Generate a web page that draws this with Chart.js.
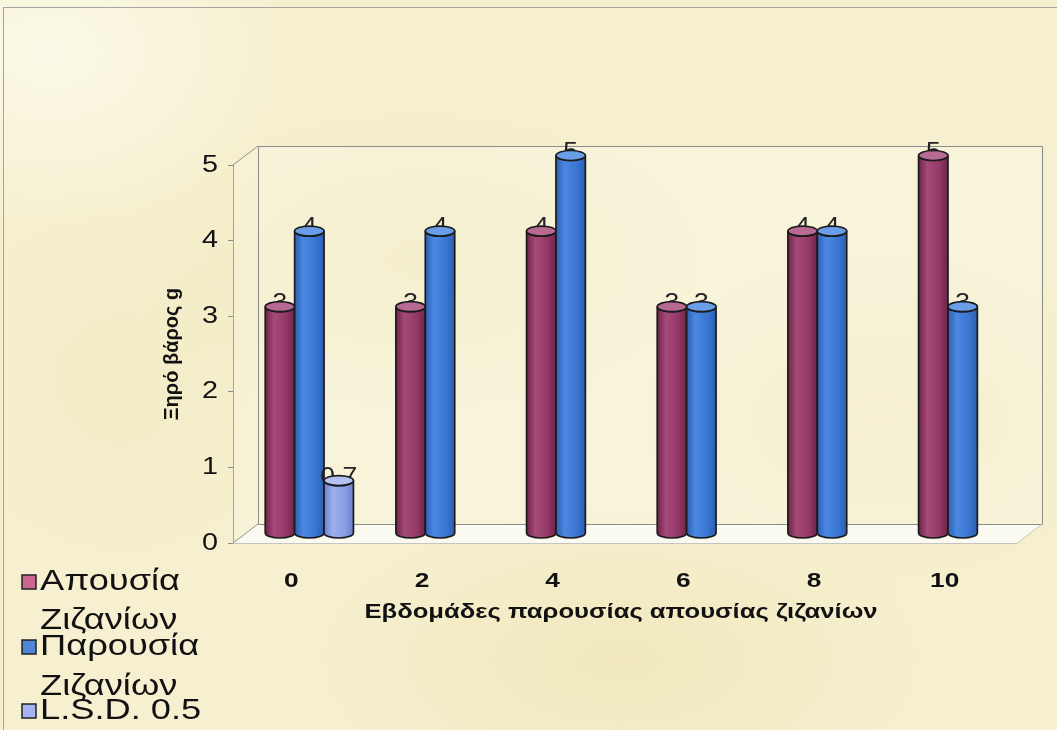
<!DOCTYPE html>
<html>
<head>
<meta charset="utf-8">
<script src="https://cdn.jsdelivr.net/npm/chart.js@4/dist/chart.umd.min.js"></script>
<style>
  html, body { margin: 0; padding: 0; }
  body { width: 1057px; height: 730px; overflow: hidden; }
  #wrap {
    position: relative; width: 1057px; height: 730px; overflow: hidden;
    background:
      radial-gradient(ellipse 240px 180px at 50px 50px, rgba(255,255,246,0.6), rgba(255,255,246,0) 100%),
      radial-gradient(ellipse 300px 160px at 420px 260px, rgba(236,226,176,0.45), rgba(236,226,176,0) 100%),
      radial-gradient(ellipse 260px 180px at 880px 420px, rgba(238,228,180,0.45), rgba(238,228,180,0) 100%),
      radial-gradient(ellipse 320px 160px at 620px 660px, rgba(236,224,170,0.5), rgba(236,224,170,0) 100%),
      radial-gradient(ellipse 200px 200px at 120px 380px, rgba(240,232,188,0.5), rgba(240,232,188,0) 100%),
      #f6f0d0;
  }
  #frame { position: absolute; left: 3px; top: 7px; width: 1100px; height: 800px; border: 1px solid #a4a4a4; box-sizing: border-box; }
  canvas { position: absolute; left: 0; top: 0; }
</style>
</head>
<body>
<div id="wrap">
  <div id="frame"></div>
  <canvas id="c" width="1057" height="730"></canvas>
</div>
<script>
// Categories: weeks of weed presence / absence
const categories = ['0', '2', '4', '6', '8', '10'];
// Dry weight (g) per treatment
const absenceValues = [3, 3, 4, 3, 4, 5];
const presenceValues = [4, 4, 5, 3, 4, 3];
const lsdValues = [0.7, null, null, null, null, null];
const seriesNames = ['Απουσία Ζιζανίων', 'Παρουσία Ζιζανίων', 'L.S.D. 0.5'];
const yTickValues = [0, 1, 2, 3, 4, 5];
const xTitle = 'Εβδομάδες παρουσίας απουσίας ζιζανίων';
const yTitle = 'Ξηρό βάρος g';

const FONT = "'Liberation Sans', Arial, sans-serif";

// cylinder shading per series
const palette = [
  { dark: '#6e2449', mid: '#953a68', light: '#a64b79', top: '#b86a93', swatch: '#cc6690' },
  { dark: '#2c5fb2', mid: '#3a76d2', light: '#4b88e2', top: '#6a9ee9', swatch: '#4f86d8' },
  { dark: '#6a7fcc', mid: '#8a9fe4', light: '#9cb0ee', top: '#b3c2f3', swatch: '#a3b4f0' }
];

// 3D depth of the plot box, and offset of the bar row inside it
const DEPTH = { x: 25, y: -19 };
const ROW = { x: 11, y: -9.5 };

// horizontally widened text
function wideText(ctx, text, x, y, sx, align) {
  ctx.save();
  ctx.translate(x, y);
  ctx.scale(sx, 1);
  ctx.textAlign = align;
  ctx.fillText(text, 0, 0);
  ctx.restore();
}

const frame3d = {
  id: 'frame3d',
  beforeDatasetsDraw(chart) {
    const { ctx, chartArea: a } = chart;
    const L = a.left, R = a.right, T = a.top, B = a.bottom;
    const dx = DEPTH.x, dy = DEPTH.y;
    ctx.save();
    ctx.fillStyle = 'rgba(255,255,246,0.25)';
    ctx.fillRect(L + dx, T + dy, R - L, B - T);
    ctx.beginPath();
    ctx.moveTo(L, B); ctx.lineTo(R, B); ctx.lineTo(R + dx, B + dy); ctx.lineTo(L + dx, B + dy);
    ctx.closePath();
    ctx.fillStyle = '#fbfaf1';
    ctx.fill();
    ctx.beginPath();
    ctx.moveTo(L, T); ctx.lineTo(L + dx, T + dy); ctx.lineTo(L + dx, B + dy); ctx.lineTo(L, B);
    ctx.closePath();
    ctx.fillStyle = 'rgba(255,255,246,0.2)';
    ctx.fill();

    ctx.lineWidth = 1;
    ctx.strokeStyle = '#8c8c8c';
    ctx.beginPath();
    ctx.rect(L + dx + 0.5, T + dy + 0.5, R - L, B - T);
    ctx.moveTo(L, T); ctx.lineTo(L + dx, T + dy);
    ctx.moveTo(L, B); ctx.lineTo(L + dx, B + dy);
    ctx.stroke();
    ctx.strokeStyle = '#c4c4c0';
    ctx.beginPath();
    ctx.moveTo(L, B + 0.5); ctx.lineTo(R, B + 0.5); ctx.lineTo(R + dx, B + dy);
    ctx.stroke();
    ctx.restore();
  }
};

function drawCylinder(ctx, cx, top, base, w, c) {
  const rx = w / 2, ry = 5;
  const g = ctx.createLinearGradient(cx - rx, 0, cx + rx, 0);
  g.addColorStop(0, c.dark);
  g.addColorStop(0.3, c.light);
  g.addColorStop(0.7, c.mid);
  g.addColorStop(1, c.dark);
  ctx.beginPath();
  ctx.moveTo(cx - rx, top);
  ctx.lineTo(cx - rx, base);
  ctx.ellipse(cx, base, rx, ry, 0, Math.PI, 0, true);
  ctx.lineTo(cx + rx, top);
  ctx.ellipse(cx, top, rx, ry, 0, 0, Math.PI, false);
  ctx.closePath();
  ctx.fillStyle = g;
  ctx.fill();
  ctx.lineWidth = 1.7;
  ctx.strokeStyle = '#1b1b1b';
  ctx.stroke();
  ctx.beginPath();
  ctx.ellipse(cx, top, rx, ry, 0, 0, Math.PI * 2);
  ctx.fillStyle = c.top;
  ctx.fill();
  ctx.stroke();
}

const cylinders = {
  id: 'cylinders',
  afterDatasetsDraw(chart) {
    const { ctx } = chart;
    const items = [];
    chart.data.datasets.forEach((ds, di) => {
      const meta = chart.getDatasetMeta(di);
      meta.data.forEach((el, i) => {
        const v = ds.data[i];
        if (v === null || v === undefined) return;
        items.push({ x: el.x + ROW.x, top: el.y + ROW.y, base: el.base + ROW.y, w: el.width, v, di });
      });
    });
    items.sort((p, q) => p.x - q.x);
    ctx.save();
    items.forEach(it => {
      ctx.font = '23px ' + FONT;
      ctx.fillStyle = '#222';
      ctx.textBaseline = 'alphabetic';
      wideText(ctx, String(it.v), it.x, it.top + 3, 1.15, 'center');
      drawCylinder(ctx, it.x, it.top, it.base, it.w, palette[it.di]);
    });
    ctx.restore();
  }
};

// tick labels and axis titles, placed from the scales
const axisText = {
  id: 'axisText',
  afterDraw(chart) {
    const { ctx, scales: { x, y }, chartArea: a } = chart;
    ctx.save();
    ctx.fillStyle = '#111';
    ctx.textBaseline = 'middle';
    ctx.font = '24px ' + FONT;
    y.ticks.forEach(t => wideText(ctx, String(t.value), a.left - 15, y.getPixelForValue(t.value), 1.2, 'right'));
    ctx.font = 'bold 21px ' + FONT;
    chart.data.labels.forEach((lab, i) => wideText(ctx, lab, x.getPixelForTick(i) - 7, a.bottom + 38, 1.25, 'center'));
    ctx.font = 'bold 21px ' + FONT;
    wideText(ctx, xTitle, (a.left + a.right) / 2 - 4, a.bottom + 69, 1.22, 'center');
    ctx.save();
    ctx.translate(a.left - 61, (a.top + a.bottom) / 2);
    ctx.rotate(-Math.PI / 2);
    ctx.font = 'bold 20px ' + FONT;
    ctx.textAlign = 'center';
    ctx.fillText(yTitle, 0, 0);
    ctx.restore();
    ctx.restore();
  }
};

const sideLegend = {
  id: 'sideLegend',
  afterDraw(chart) {
    const { ctx } = chart;
    const rows = [[582, 621], [647, 687], [711]];
    ctx.save();
    ctx.font = '29px ' + FONT;
    ctx.textBaseline = 'middle';
    chart.data.datasets.forEach((ds, i) => {
      const y = rows[i][0];
      ctx.fillStyle = palette[i].swatch;
      ctx.fillRect(22, y - 7, 14, 14);
      ctx.lineWidth = 1.5;
      ctx.strokeStyle = '#222';
      ctx.strokeRect(22, y - 7, 14, 14);
      const words = ds.label.split(' ');
      const first = i < 2 ? words[0] : ds.label;
      ctx.fillStyle = '#111';
      wideText(ctx, first, 40, y, 1.25, 'left');
      if (i < 2 && words.length > 1) {
        wideText(ctx, words.slice(1).join(' '), 40, rows[i][1], 1.25, 'left');
      }
    });
    ctx.restore();
  }
};

const datasets = [absenceValues, presenceValues, lsdValues].map((vals, i) => ({
  label: seriesNames[i],
  data: vals,
  backgroundColor: 'rgba(0,0,0,0)',
  borderWidth: 0,
  categoryPercentage: 0.675,
  barPercentage: 1.0
}));

new Chart(document.getElementById('c'), {
  type: 'bar',
  data: { labels: categories, datasets },
  plugins: [frame3d, cylinders, axisText, sideLegend],
  options: {
    responsive: false,
    animation: false,
    events: [],
    layout: { padding: { left: 0, top: 165, right: 40, bottom: 0 } },
    plugins: { legend: { display: false }, tooltip: { enabled: false } },
    scales: {
      x: {
        grid: { display: false, drawTicks: false },
        border: { display: false },
        ticks: { display: false },
        afterFit(s) { s.height = 187; }
      },
      y: {
        min: 0, max: 5,
        afterBuildTicks(s) { s.ticks = yTickValues.map(v => ({ value: v })); },
        grid: { drawOnChartArea: false, drawTicks: true, tickLength: 5, color: '#8c8c8c' },
        border: { display: true, color: '#8c8c8c' },
        ticks: { display: false },
        afterFit(s) { s.width = 233; }
      }
    }
  }
});
</script>
</body>
</html>
